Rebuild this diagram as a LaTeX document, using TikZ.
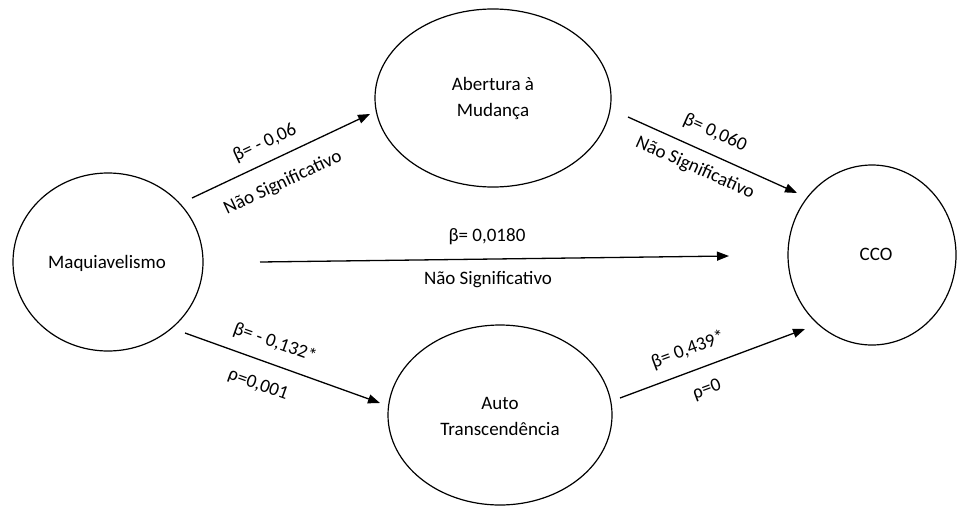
\documentclass[tikz,border=0pt]{standalone}
\usepackage{fontspec}
\setmainfont{Carlito}
\usetikzlibrary{arrows.meta}
\begin{document}
\begin{tikzpicture}[x=1pt,y=-1pt,
  conn/.style={line width=1.3pt, -{Triangle[length=12pt,width=9pt]}},
  oval/.style={line width=1.2pt},
  lbl/.style={font=\fontsize{19}{26}\selectfont, inner sep=0pt}]
\useasboundingbox (0,0) rectangle (957,506);
% ellipses drawn directly with named nodes for text
\draw[oval] (108,262) ellipse [x radius=95, y radius=89];
\node[lbl] (maq) at (107,263) {Maquiavelismo};
\draw[oval] (493,98) ellipse [x radius=118, y radius=89];
\node[lbl, align=center] (abe) at (493,98) {Abertura à\\Mudança};
\draw[oval] (500,415) ellipse [x radius=112, y radius=90];
\node[lbl, align=center] (aut) at (500,416) {Auto\\Transcendência};
\draw[oval] (872,255) ellipse [x radius=84, y radius=90];
\node[lbl] (cco) at (876,254) {CCO};
% arrow end points
\coordinate (a1) at (192,198); \coordinate (b1) at (370,114);
\coordinate (a2) at (628,117); \coordinate (b2) at (797,193);
\coordinate (a3) at (260,262); \coordinate (b3) at (729,256);
\coordinate (a4) at (185,333); \coordinate (b4) at (380,403);
\coordinate (a5) at (620,398); \coordinate (b5) at (805,329);
\draw[conn] (a1) -- (b1);
\draw[conn] (a2) -- (b2);
\draw[conn] (a3) -- (b3);
\draw[conn] (a4) -- (b4);
\draw[conn] (a5) -- (b5);
% labels
\node[lbl, rotate=25.2] (l1a) at (265,143) {β= - 0,06};
\node[lbl, rotate=25.2] (l1b) at (283,183) {Não Significativo};
\node[lbl, rotate=-24.2] (l2a) at (715,133) {β= 0,060};
\node[lbl, rotate=-24.2] (l2b) at (695,168) {Não Significativo};
\node[lbl] (l3a) at (487,237) {β= 0,0180};
\node[lbl] (l3b) at (488,280) {Não Significativo};
\node[lbl, rotate=-19.7] (l4a) at (275,343) {β= - 0,132*};
\node[lbl, rotate=-19.7] (l4b) at (258,385) {ρ=0,001};
\node[lbl, rotate=20.4] (l5a) at (688,350) {β= 0,439*};
\node[lbl, rotate=20.4] (l5b) at (707,390) {ρ=0};
\end{tikzpicture}
\end{document}
